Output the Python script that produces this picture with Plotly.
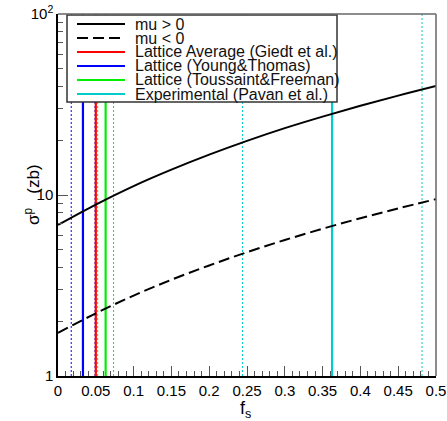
import plotly.graph_objects as go

# ---- data ----
fs = [0.0, 0.05, 0.10, 0.15, 0.20, 0.25, 0.30, 0.35, 0.40, 0.45, 0.50]
sigma_mu_pos = [6.83, 8.85, 11.2, 13.8, 16.7, 19.9, 23.4, 27.1, 31.1, 35.4, 40.0]
sigma_mu_neg = [1.73, 2.22, 2.78, 3.40, 4.08, 4.83, 5.64, 6.51, 7.44, 8.43, 9.49]

lattice_names = ["Lattice Average (Giedt et al.)", "Lattice (Young&Thomas)",
                 "Lattice (Toussaint&Freeman)", "Experimental (Pavan et al.)"]
lattice_colors = ["#ff0000", "#0000ff", "#00ee00", "#00cccc"]
lattice_center = [0.050, 0.033, 0.063, 0.3625]
lattice_low = [None, 0.0175, 0.0525, 0.244]
lattice_high = [None, 0.049, 0.0735, 0.4815]

y_span = [1, 100]
FONT = "Liberation Sans, Arial, sans-serif"

fig = go.Figure()

# vertical bands (dotted error lines then solid central values)
for c, lo, hi in zip(lattice_colors, lattice_low, lattice_high):
    for v in (lo, hi):
        if v is None:
            continue
        fig.add_trace(go.Scatter(x=[v, v], y=y_span, mode="lines",
                                 line=dict(color=c, width=1, dash="2px,2px"),
                                 showlegend=False, hoverinfo="skip"))
for c, v in zip(lattice_colors, lattice_center):
    fig.add_trace(go.Scatter(x=[v, v], y=y_span, mode="lines",
                             line=dict(color=c, width=2.2),
                             showlegend=False, hoverinfo="skip"))

fig.add_trace(go.Scatter(x=fs, y=sigma_mu_pos, mode="lines", line_shape="spline",
                         line=dict(color="black", width=2), showlegend=False))
fig.add_trace(go.Scatter(x=fs, y=sigma_mu_neg, mode="lines", line_shape="spline",
                         line=dict(color="black", width=2, dash="11px,5px"),
                         showlegend=False))

# ---- manual legend (tight row spacing like the reference) ----
L, R, T, B = 58.0, 436.0, 14.0, 376.0
def px(x):
    return (x - L) / (R - L)
def py(y):
    return (B - y) / (B - T)

shapes = []
shapes.append(dict(type="rect", xref="paper", yref="paper",
                   x0=px(67), x1=px(337), y0=py(102), y1=py(15),
                   fillcolor="white", line=dict(color="#333333", width=1.5), layer="above"))
legend_entries = [("mu > 0", "black", "solid"), ("mu < 0", "black", "11px,5px")] + \
    [(n, c, "solid") for n, c in zip(lattice_names, lattice_colors)]
rows = [24, 38, 52, 66, 80, 94]
annotations = []
for (name, col, dash), ry in zip(legend_entries, rows):
    shapes.append(dict(type="line", xref="paper", yref="paper",
                       x0=px(77), x1=px(125), y0=py(ry), y1=py(ry),
                       line=dict(color=col, width=2, dash=dash), layer="above"))
    annotations.append(dict(xref="paper", yref="paper", x=px(133), y=py(ry),
                            text=name, showarrow=False, xanchor="left", yanchor="middle",
                            font=dict(family=FONT, size=16, color="#111111")))

# axis titles
annotations.append(dict(xref="paper", yref="paper", x=px(32), y=py(195),
                        text="σ<sup>p</sup>   (zb)", textangle=-90, showarrow=False,
                        xanchor="center", yanchor="middle",
                        font=dict(family=FONT, size=17, color="black")))
annotations.append(dict(xref="paper", yref="paper", x=px(245), y=py(409),
                        text="f<sub>s</sub>", showarrow=False,
                        xanchor="center", yanchor="middle",
                        font=dict(family=FONT, size=18, color="black")))

# top and right frame (gray)
shapes.append(dict(type="line", xref="paper", yref="paper", x0=0, x1=1, y0=1, y1=1,
                   line=dict(color="#666666", width=1.5)))
shapes.append(dict(type="line", xref="paper", yref="paper", x0=1, x1=1, y0=0, y1=1,
                   line=dict(color="#666666", width=1.5)))

minor_y = [2, 3, 4, 5, 6, 7, 8, 9, 20, 30, 40, 50, 60, 70, 80, 90]

fig.update_layout(
    width=447, height=421,
    margin=dict(l=58, r=11, t=14, b=45),
    plot_bgcolor="white", paper_bgcolor="white",
    font=dict(family=FONT, size=15, color="black"),
    shapes=shapes, annotations=annotations,
    showlegend=False,
    xaxis=dict(range=[0, 0.5], tickmode="array",
               tickvals=[0, 0.05, 0.1, 0.15, 0.2, 0.25, 0.3, 0.35, 0.4, 0.45, 0.5],
               ticktext=["0", "0.05", "0.1", "0.15", "0.2", "0.25", "0.3", "0.35", "0.4", "0.45", "0.5"],
               ticks="inside", ticklen=10, tickwidth=1, tickcolor="#555555",
               minor=dict(dtick=0.01, ticks="inside", ticklen=5, tickcolor="#555555", showgrid=False),
               showline=True, linecolor="black", linewidth=1.5, showgrid=False, zeroline=False,
               automargin=False, tickfont=dict(size=15)),
    yaxis=dict(type="log", range=[0, 2], tickmode="array",
               tickvals=[1, 10, 100], ticktext=["1", "10", "10<sup>2</sup>"],
               ticks="inside", ticklen=10, tickwidth=1, tickcolor="#555555",
               minor=dict(tickvals=minor_y, ticks="inside", ticklen=5, tickcolor="#555555", showgrid=False),
               showline=True, linecolor="black", linewidth=1.5, showgrid=False, zeroline=False,
               automargin=False, tickfont=dict(size=15)),
)

fig.write_html("out.html")
